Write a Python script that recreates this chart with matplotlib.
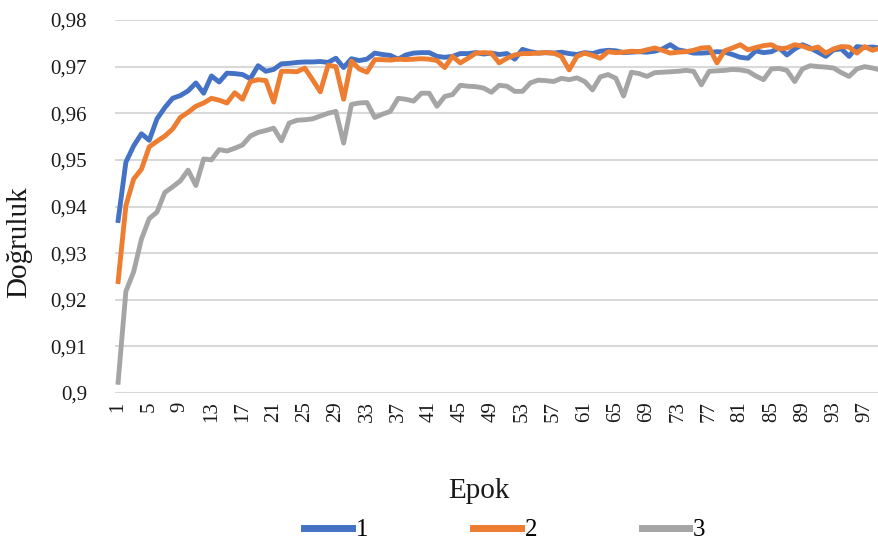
import numpy as np
import matplotlib
matplotlib.use('Agg')
import matplotlib.pyplot as plt

plt.rcParams['font.family'] = ['Liberation Serif', 'DejaVu Serif']

epochs = np.arange(1, 101)

acc1 = [0.9370, 0.9495, 0.9530, 0.9556, 0.9542, 0.9588, 0.9612, 0.9632, 0.9638, 0.9648,
        0.9665, 0.9643, 0.9680, 0.9667, 0.9686, 0.9685, 0.9683, 0.9674, 0.9702, 0.9690,
        0.9694, 0.9706, 0.9707, 0.9709, 0.9710, 0.9710, 0.9711, 0.9709, 0.9718, 0.9698,
        0.9717, 0.9713, 0.9716, 0.9729, 0.9726, 0.9724, 0.9716, 0.9725, 0.9729, 0.9730,
        0.9730, 0.9722, 0.9720, 0.9722, 0.9728, 0.9728, 0.9730, 0.9727, 0.9729, 0.9726,
        0.9728, 0.9716, 0.9737, 0.9732, 0.9729, 0.9730, 0.9729, 0.9731, 0.9728, 0.9726,
        0.9730, 0.9728, 0.9733, 0.9735, 0.9734, 0.9730, 0.9731, 0.9732, 0.9731, 0.9733,
        0.9738, 0.9747, 0.9736, 0.9733, 0.9729, 0.9729, 0.9730, 0.9732, 0.9731, 0.9726,
        0.9720, 0.9718, 0.9734, 0.9730, 0.9732, 0.9740, 0.9725, 0.9738, 0.9747, 0.9740,
        0.9731, 0.9722, 0.9736, 0.9738, 0.9722, 0.9743, 0.9741, 0.9742, 0.9740, 0.9741]

acc2 = [0.9239, 0.9402, 0.9459, 0.9480, 0.9528, 0.9540, 0.9551, 0.9566, 0.9591, 0.9602,
        0.9615, 0.9622, 0.9632, 0.9628, 0.9622, 0.9644, 0.9630, 0.9668, 0.9672, 0.9670,
        0.9624, 0.9690, 0.9690, 0.9689, 0.9697, 0.9672, 0.9646, 0.9703, 0.9700, 0.9630,
        0.9712, 0.9695, 0.9688, 0.9715, 0.9715, 0.9714, 0.9716, 0.9715, 0.9716, 0.9717,
        0.9716, 0.9713, 0.9698, 0.9722, 0.9708, 0.9718, 0.9729, 0.9730, 0.9729, 0.9708,
        0.9718, 0.9725, 0.9728, 0.9728, 0.9729, 0.9730, 0.9729, 0.9722, 0.9693, 0.9722,
        0.9729, 0.9724, 0.9718, 0.9732, 0.9730, 0.9731, 0.9733, 0.9732, 0.9736, 0.9740,
        0.9735, 0.9729, 0.9731, 0.9732, 0.9735, 0.9740, 0.9741, 0.9708, 0.9734, 0.9740,
        0.9747, 0.9736, 0.9741, 0.9745, 0.9747, 0.9738, 0.9740, 0.9747, 0.9744, 0.9738,
        0.9742, 0.9729, 0.9738, 0.9743, 0.9742, 0.9729, 0.9743, 0.9735, 0.9740, 0.9738]

acc3 = [0.9023, 0.9218, 0.9260, 0.9330, 0.9374, 0.9388, 0.9430, 0.9442, 0.9455, 0.9478,
        0.9445, 0.9502, 0.9500, 0.9522, 0.9519, 0.9525, 0.9532, 0.9551, 0.9559, 0.9563,
        0.9568, 0.9541, 0.9579, 0.9585, 0.9586, 0.9588, 0.9594, 0.9600, 0.9604, 0.9536,
        0.9619, 0.9622, 0.9623, 0.9591, 0.9598, 0.9604, 0.9632, 0.9630, 0.9626, 0.9643,
        0.9643, 0.9615, 0.9636, 0.9640, 0.9660, 0.9658, 0.9657, 0.9654, 0.9645, 0.9660,
        0.9658, 0.9647, 0.9647, 0.9665, 0.9671, 0.9670, 0.9668, 0.9675, 0.9672, 0.9676,
        0.9668, 0.9650, 0.9678, 0.9683, 0.9675, 0.9637, 0.9688, 0.9685, 0.9679, 0.9687,
        0.9688, 0.9689, 0.9690, 0.9692, 0.9690, 0.9661, 0.9690, 0.9691, 0.9692, 0.9694,
        0.9693, 0.9690, 0.9680, 0.9672, 0.9695, 0.9696, 0.9692, 0.9668, 0.9695, 0.9702,
        0.9700, 0.9699, 0.9697, 0.9687, 0.9679, 0.9695, 0.9700, 0.9697, 0.9693, 0.9692]

labels = ['1', '2', '3']
colors = ['#4472C4', '#ED7D31', '#A5A5A5']
yticks = [0.90, 0.91, 0.92, 0.93, 0.94, 0.95, 0.96, 0.97, 0.98]
xticks = list(range(1, 100, 4))

fig = plt.figure(figsize=(8.79, 5.45), dpi=100)
# plot area runs past the right edge of the picture, as in the source image
ax = fig.add_axes([115 / 879, 152 / 545, 773 / 879, 373 / 545])

for y, c, lab in zip([acc1, acc2, acc3], colors, labels):
    ax.plot(epochs, y, color=c, lw=3.5, label=lab, solid_joinstyle='round', zorder=3)

ax.set_xlim(0.6, 100)
ax.set_ylim(0.9, 0.98)
ax.set_yticks(yticks)
ax.set_yticklabels([('%.2f' % v).rstrip('0').replace('.', ',') for v in yticks])
ax.set_xticks(xticks)
ax.set_xticklabels([str(v) for v in xticks], rotation=90)
ax.tick_params(length=0, labelsize=15, colors='#1a1a1a')
ax.tick_params(axis='y', pad=20)
ax.tick_params(axis='x', pad=6)
ax.grid(axis='y', color='#D9D9D9', lw=1.5)
ax.set_axisbelow(True)
for s in ax.spines.values():
    s.set_visible(False)

ax.set_ylabel('Doğruluk', fontsize=21, color='#1a1a1a')
ax.yaxis.set_label_coords(-0.107, 0.405)
ax.set_xlabel('Epok', fontsize=21, color='#1a1a1a')
ax.xaxis.set_label_coords((479 - 115) / 773, -(478 - 393) / 373)

leg = fig.legend(loc='center', bbox_to_anchor=(505 / 879, 1 - 530 / 545), ncol=3, frameon=False,
                 fontsize=18, handlelength=1.9, handletextpad=0.15, columnspacing=4.2)
for h in leg.legend_handles:
    h.set_linewidth(5)

fig.savefig('out.png', dpi=100)
